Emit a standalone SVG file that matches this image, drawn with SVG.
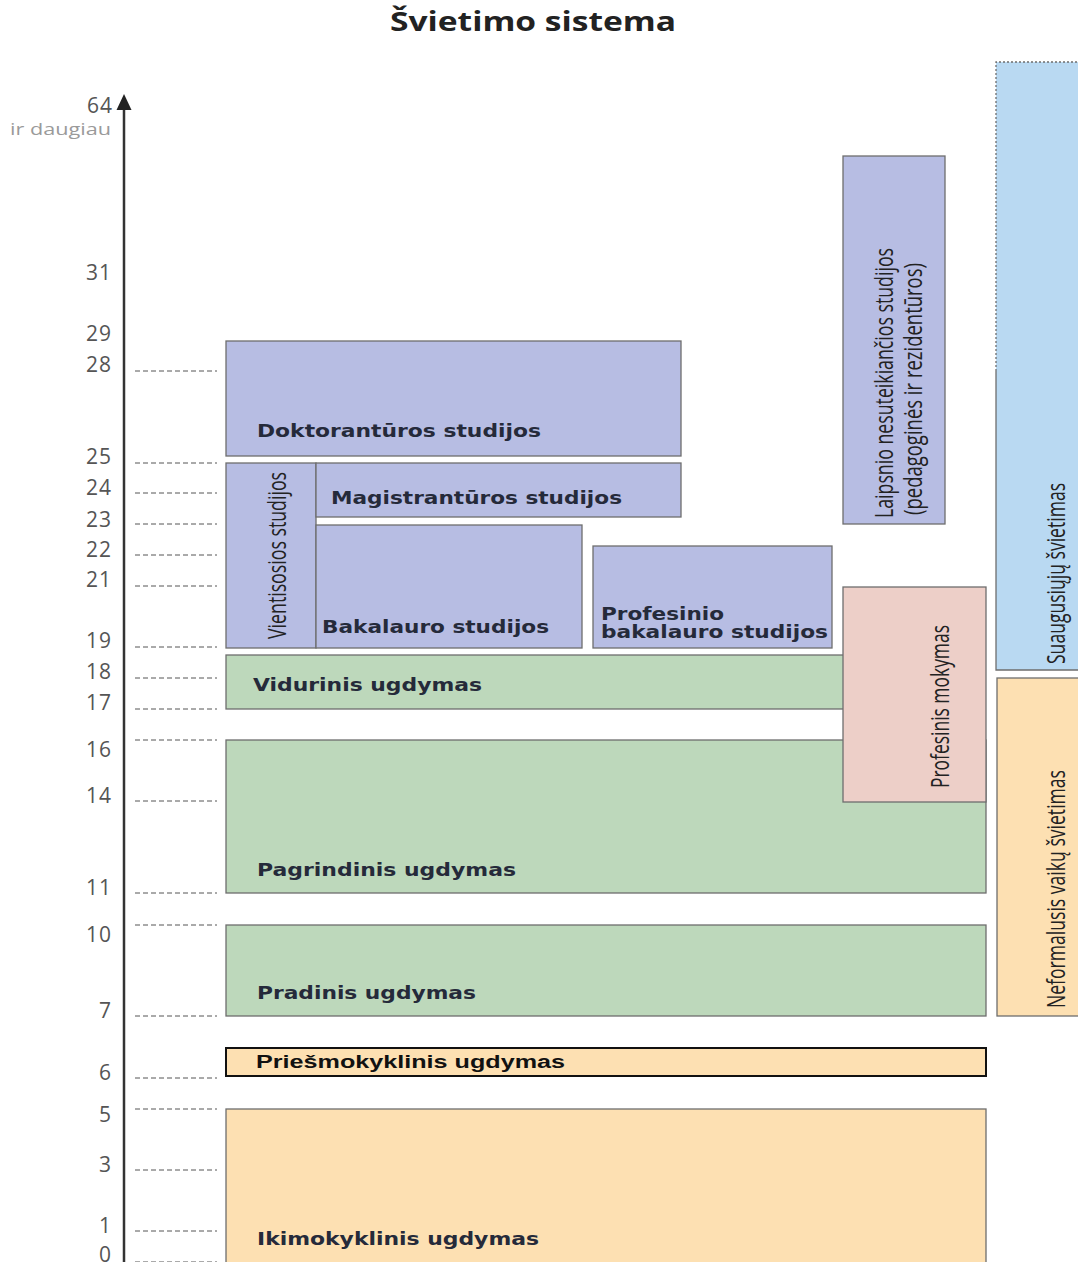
<svg xmlns="http://www.w3.org/2000/svg" width="1078" height="1262" viewBox="0 0 1078 1262">
<style>
.num{font-family:"Open Sans","DejaVu Sans",sans-serif;font-size:21px;letter-spacing:1px;fill:#555;text-anchor:end}
.dash{stroke:#555;stroke-width:1;stroke-dasharray:5,3;fill:none}
.box{stroke:#6e6e6e;stroke-width:1.3}
.lav{fill:#b7bde3}
.grn{fill:#bdd8bb}
.pnk{fill:#edcfc8}
.pch{fill:#fde0b2}
.blu{fill:#b9d9f2}
.lbl{font-family:"DejaVu Sans","Open Sans",sans-serif;font-weight:bold;font-size:17px;fill:#252a3a}
.vt{font-family:"Liberation Sans Narrow","Open Sans",sans-serif;font-size:25px;fill:#222}
</style>
<rect width="1078" height="1262" fill="#fff"/>
<text x="533" y="31" text-anchor="middle" font-family="Open Sans, DejaVu Sans, sans-serif" font-weight="bold" font-size="26" fill="#222" textLength="286" lengthAdjust="spacingAndGlyphs">Švietimo sistema</text>

<g id="axis">
<line x1="124" y1="1262" x2="124" y2="106" stroke="#333" stroke-width="2.5"/>
<polygon points="124,94 116.5,110 131.5,110" fill="#222"/>
<text class="num" x="113" y="113">64</text>
<text x="111" y="135" text-anchor="end" font-family="Open Sans, DejaVu Sans, sans-serif" font-size="16" fill="#9a9a9a" textLength="101" lengthAdjust="spacingAndGlyphs">ir daugiau</text>
<text class="num" x="112" y="280">31</text>
<text class="num" x="112" y="341">29</text>
<text class="num" x="112" y="372">28</text>
<text class="num" x="112" y="464">25</text>
<text class="num" x="112" y="495">24</text>
<text class="num" x="112" y="527">23</text>
<text class="num" x="112" y="557">22</text>
<text class="num" x="112" y="587">21</text>
<text class="num" x="112" y="648">19</text>
<text class="num" x="112" y="679">18</text>
<text class="num" x="112" y="710">17</text>
<text class="num" x="112" y="757">16</text>
<text class="num" x="112" y="803">14</text>
<text class="num" x="112" y="895">11</text>
<text class="num" x="112" y="942">10</text>
<text class="num" x="112" y="1018">7</text>
<text class="num" x="112" y="1080">6</text>
<text class="num" x="112" y="1122">5</text>
<text class="num" x="112" y="1172">3</text>
<text class="num" x="112" y="1233">1</text>
<text class="num" x="112" y="1262">0</text>
</g>

<g id="connectors">
<path class="dash" d="M135 371H217M135 463H217M135 493H217M135 524H217M135 555H217M135 586H217M135 647H217M135 678H217M135 709H217M135 740H217M135 801H217M135 893H217M135 925H217M135 1016H217M135 1078H217M135 1109H217M135 1170H217M135 1231H217M135 1262H217"/>
</g>

<g id="suaugusiuju">
<rect x="996" y="62" width="84" height="608" class="blu"/>
<path d="M996 371V670H1080" fill="none" stroke="#6e6e6e" stroke-width="1.3"/>
<path d="M996 371V62H1080" fill="none" stroke="#6e6e6e" stroke-width="1.3" stroke-dasharray="2,2"/>
<text class="vt" transform="translate(1065,664) rotate(-90)" textLength="181" lengthAdjust="spacingAndGlyphs">Suaugusiųjų švietimas</text>
</g>

<g id="neformalusis">
<rect x="997" y="678" width="83" height="338" class="box pch"/>
<text class="vt" transform="translate(1065,1008) rotate(-90)" textLength="238" lengthAdjust="spacingAndGlyphs">Neformalusis vaikų švietimas</text>
</g>

<g id="laipsnio">
<rect x="843" y="156" width="102" height="368" class="box lav"/>
<text class="vt" transform="translate(893,518) rotate(-90)" textLength="270" lengthAdjust="spacingAndGlyphs">Laipsnio nesuteikiančios studijos</text>
<text class="vt" transform="translate(922,515) rotate(-90)" textLength="252" lengthAdjust="spacingAndGlyphs">(pedagoginės ir rezidentūros)</text>
</g>

<g id="doktoranturos">
<rect x="226" y="341" width="455" height="115" class="box lav"/>
<text class="lbl" x="257" y="437" textLength="284" lengthAdjust="spacingAndGlyphs">Doktorantūros studijos</text>
</g>

<g id="vientisosios">
<rect x="226" y="463" width="90" height="185" class="box lav"/>
<text class="vt" transform="translate(286,639) rotate(-90)" textLength="167" lengthAdjust="spacingAndGlyphs">Vientisosios studijos</text>
</g>

<g id="magistranturos">
<rect x="316" y="463" width="365" height="54" class="box lav"/>
<text class="lbl" x="331" y="504" textLength="291" lengthAdjust="spacingAndGlyphs">Magistrantūros studijos</text>
</g>

<g id="bakalauro">
<rect x="316" y="525" width="266" height="123" class="box lav"/>
<text class="lbl" x="322" y="633" textLength="227" lengthAdjust="spacingAndGlyphs">Bakalauro studijos</text>
</g>

<g id="profesinio-bakalauro">
<rect x="593" y="546" width="239" height="102" class="box lav"/>
<text class="lbl" x="601" y="620" font-size="16" textLength="123" lengthAdjust="spacingAndGlyphs">Profesinio</text>
<text class="lbl" x="601" y="638" font-size="16" textLength="227" lengthAdjust="spacingAndGlyphs">bakalauro studijos</text>
</g>

<g id="vidurinis">
<rect x="226" y="655" width="618" height="54" class="box grn"/>
<text class="lbl" x="253" y="691" textLength="229" lengthAdjust="spacingAndGlyphs">Vidurinis ugdymas</text>
</g>

<g id="pagrindinis">
<rect x="226" y="740" width="760" height="153" class="box grn"/>
<text class="lbl" x="257" y="876" textLength="259" lengthAdjust="spacingAndGlyphs">Pagrindinis ugdymas</text>
</g>

<g id="profesinis-mokymas">
<rect x="843" y="587" width="143" height="215" class="box pnk"/>
<text class="vt" transform="translate(949,788) rotate(-90)" textLength="163" lengthAdjust="spacingAndGlyphs">Profesinis mokymas</text>
</g>

<g id="pradinis">
<rect x="226" y="925" width="760" height="91" class="box grn"/>
<text class="lbl" x="257" y="999" textLength="219" lengthAdjust="spacingAndGlyphs">Pradinis ugdymas</text>
</g>

<g id="priesmokyklinis">
<rect x="226" y="1048" width="760" height="28" fill="#fde0b2" stroke="#111" stroke-width="2"/>
<text x="256" y="1068" font-family="Liberation Sans, Arial, sans-serif" font-weight="bold" font-size="18" fill="#111" textLength="309" lengthAdjust="spacingAndGlyphs">Priešmokyklinis ugdymas</text>
</g>

<g id="ikimokyklinis">
<rect x="226" y="1109" width="760" height="160" class="box pch"/>
<text class="lbl" x="257" y="1245" textLength="282" lengthAdjust="spacingAndGlyphs">Ikimokyklinis ugdymas</text>
</g>
</svg>
